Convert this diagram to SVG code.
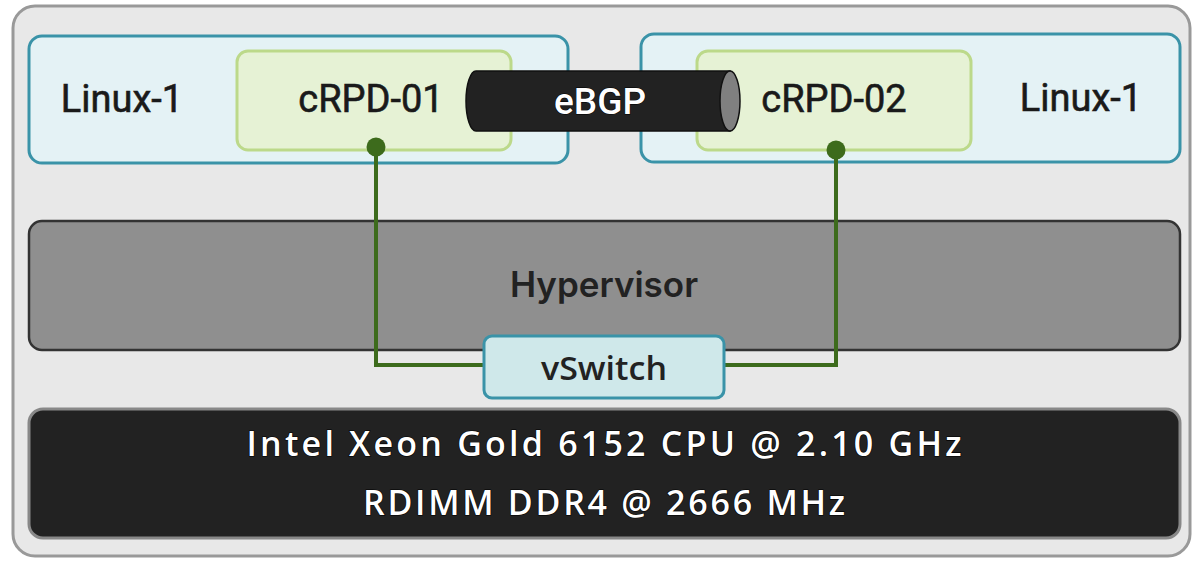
<svg xmlns="http://www.w3.org/2000/svg" width="1200" height="565" viewBox="0 0 1200 565">
<style>
.linux{fill:#e4f2f5;stroke:#3a93a8;stroke-width:3}
.crpd{fill:#e6f2d5;stroke:#bcd98a;stroke-width:3}
.lbl{font-family:Roboto,"Liberation Sans",sans-serif;font-size:38px;fill:#1a1a1a;stroke:#1a1a1a;stroke-width:0.6;text-anchor:middle}
.lg{font-family:"Open Sans","DejaVu Sans",sans-serif;font-weight:600;text-anchor:middle}
.wire{fill:none;stroke:#3d6b1c;stroke-width:4}
</style>
<rect x="13" y="6" width="1177" height="550" rx="22" fill="#e8e8e8" stroke="#999" stroke-width="3"/>
<g id="linux-left">
<rect class="linux" x="29" y="36" width="539" height="127" rx="13"/>
<text class="lbl" x="122" y="112">Linux-1</text>
</g>
<g id="linux-right">
<rect class="linux" x="641" y="34" width="539" height="128" rx="13"/>
<text class="lbl" x="1081" y="111">Linux-1</text>
</g>
<g id="crpd-01">
<rect class="crpd" x="237" y="51" width="274" height="99" rx="11"/>
<text class="lbl" x="371" y="112">cRPD-01</text>
</g>
<g id="crpd-02">
<rect class="crpd" x="697" y="51" width="274" height="99" rx="11"/>
<text class="lbl" x="834" y="112">cRPD-02</text>
</g>
<g id="ebgp">
<path d="M476 71 H730 V131 H476 A10 30 0 0 1 476 71 Z" fill="#222" stroke="#111" stroke-width="1.5"/>
<ellipse cx="730" cy="101" rx="10" ry="30" fill="#808080" stroke="#111" stroke-width="1.5"/>
<text x="600" y="114" font-family="Roboto,'Liberation Sans',sans-serif" font-size="37" font-weight="500" fill="#fff" stroke="#000" stroke-width="1" paint-order="stroke" text-anchor="middle">eBGP</text>
</g>
<g id="hypervisor">
<rect x="29" y="221" width="1151" height="129" rx="13" fill="#8f8f8f" stroke="#333" stroke-width="2.5"/>
<text x="604" y="297" font-family="Inter,'Liberation Sans',sans-serif" font-weight="600" font-size="35" fill="#222" text-anchor="middle">Hypervisor</text>
</g>
<g id="connectors">
<polyline class="wire" points="376,147 376,365 484,365"/>
<polyline class="wire" points="836,150 836,365 724,365"/>
<circle cx="376" cy="147" r="9.5" fill="#3d6b1c"/>
<circle cx="836" cy="150" r="9.5" fill="#3d6b1c"/>
</g>
<g id="vswitch">
<rect x="484" y="336" width="240" height="62" rx="8" fill="#cfe8ea" stroke="#3a93a8" stroke-width="3"/>
<text class="lg" x="604" y="380" font-size="33" fill="#222" textLength="126" lengthAdjust="spacingAndGlyphs">vSwitch</text>
</g>
<g id="hardware">
<rect x="29" y="409" width="1151" height="129" rx="14" fill="#222" stroke="#888" stroke-width="3"/>
<text class="lg" x="604" y="456" font-size="34" fill="#fff" stroke="#000" stroke-width="1.2" paint-order="stroke" textLength="715" lengthAdjust="spacing">Intel Xeon Gold 6152 CPU @ 2.10 GHz</text>
<text class="lg" x="604" y="515" font-size="34" fill="#fff" stroke="#000" stroke-width="1.2" paint-order="stroke" textLength="482" lengthAdjust="spacing">RDIMM DDR4 @ 2666 MHz</text>
</g>
</svg>
